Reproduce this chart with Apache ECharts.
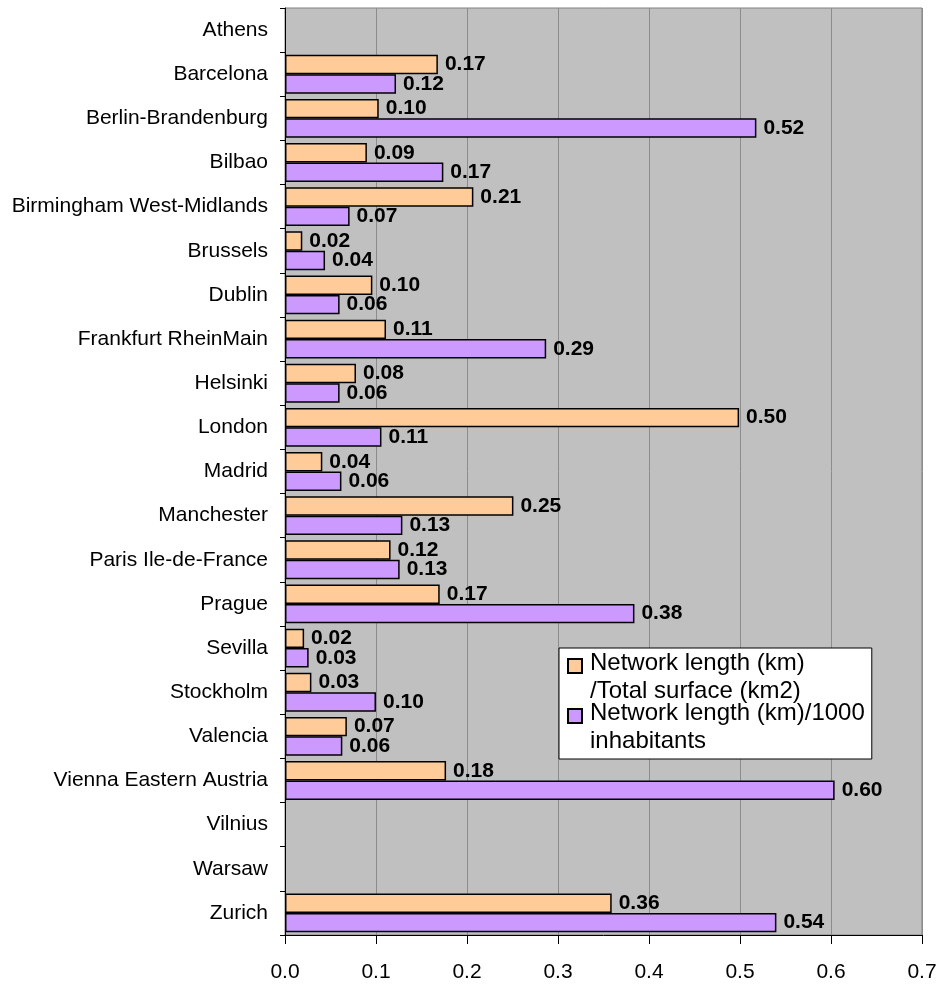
<!DOCTYPE html>
<html>
<head>
<meta charset="utf-8">
<script src="https://cdn.jsdelivr.net/npm/echarts@6/dist/echarts.min.js"></script>
<style>
  html, body { margin: 0; padding: 0; background: #fff; }
  #main { width: 942px; height: 985px; }
</style>
</head>
<body>
<div id="main"></div>
<script>
// categories, top to bottom
var cities = ['Athens', 'Barcelona', 'Berlin-Brandenburg', 'Bilbao', 'Birmingham West-Midlands',
  'Brussels', 'Dublin', 'Frankfurt RheinMain', 'Helsinki', 'London', 'Madrid', 'Manchester',
  'Paris Ile-de-France', 'Prague', 'Sevilla', 'Stockholm', 'Valencia', 'Vienna Eastern Austria',
  'Vilnius', 'Warsaw', 'Zurich'];

// Network length (km)/Total surface (km2)
var perSurface = [null, 0.168, 0.103, 0.090, 0.207, 0.019, 0.096, 0.111, 0.078, 0.499, 0.041, 0.251,
  0.116, 0.170, 0.021, 0.029, 0.068, 0.177, null, null, 0.359];

// Network length (km)/1000 inhabitants
var perInhab = [null, 0.122, 0.518, 0.174, 0.071, 0.044, 0.060, 0.287, 0.060, 0.106, 0.062, 0.129,
  0.126, 0.384, 0.026, 0.100, 0.063, 0.604, null, null, 0.540];

var xTicks = [0, 0.1, 0.2, 0.3, 0.4, 0.5, 0.6, 0.7];

var seriesNames = ['Network length (km)\n/Total surface (km2)', 'Network length (km)/1000\ninhabitants'];

var font = 'Liberation Sans, Arial, sans-serif';

// square near the top of a tall box, so the icon sits on the first text line
var legendIcon = 'path://M0,3L14,3L14,17L0,17Z M0,0L0,0 M17,42L17,42';

var myChart = echarts.init(document.getElementById('main'));

function barLabel() {
  return {
    show: true,
    position: 'right',
    distance: 7,
    color: '#000',
    fontFamily: font,
    fontWeight: 'bold',
    fontSize: 21,
    formatter: function (p) { return p.value == null ? '' : p.value.toFixed(2); }
  };
}

var option = {
  animation: false,
  grid: {
    left: 285,
    right: 20,
    top: 8,
    bottom: 50,
    show: true,
    backgroundColor: '#C0C0C0',
    borderColor: '#808080',
    borderWidth: 1
  },
  legend: {
    orient: 'vertical',
    left: 559,
    top: 648,
    backgroundColor: '#fff',
    borderColor: '#000',
    borderWidth: 1,
    padding: [1, 7, 4, 8],
    itemGap: -6,
    itemWidth: 17,
    itemHeight: 42,
    icon: legendIcon,
    textStyle: { fontFamily: font, fontSize: 24, color: '#000', lineHeight: 28 },
    data: seriesNames
  },
  xAxis: {
    type: 'value',
    min: 0,
    max: 0.7,
    interval: 0.1,
    axisLine: { show: true, lineStyle: { color: '#000', width: 1 } },
    axisTick: { show: true, length: 9, lineStyle: { color: '#000' } },
    axisLabel: {
      margin: 27,
      color: '#000',
      fontFamily: font,
      fontSize: 21,
      formatter: function (v) {
        var t = xTicks.reduce(function (a, b) { return Math.abs(b - v) < Math.abs(a - v) ? b : a; });
        return t.toFixed(1);
      }
    },
    splitLine: { show: true, lineStyle: { color: '#8c8c8c', width: 1 } }
  },
  yAxis: {
    type: 'category',
    inverse: true,
    data: cities,
    axisLine: { show: true, lineStyle: { color: '#000', width: 1 } },
    axisTick: { show: true, length: 5, lineStyle: { color: '#000' } },
    axisLabel: { margin: 17, color: '#000', fontFamily: font, fontSize: 21, interval: 0 },
    splitLine: { show: false }
  },
  series: [{
    name: seriesNames[0],
    type: 'bar',
    barGap: '0%',
    barCategoryGap: '12%',
    itemStyle: { color: '#FFCC99', borderColor: '#000', borderWidth: 1.5 },
    label: barLabel(),
    data: perSurface
  }, {
    name: seriesNames[1],
    type: 'bar',
    barGap: '0%',
    barCategoryGap: '12%',
    itemStyle: { color: '#CC99FF', borderColor: '#000', borderWidth: 1.5 },
    label: barLabel(),
    data: perInhab
  }]
};

myChart.setOption(option);

window.onresize = function () {
  myChart.resize();
};
</script>
</body>
</html>
